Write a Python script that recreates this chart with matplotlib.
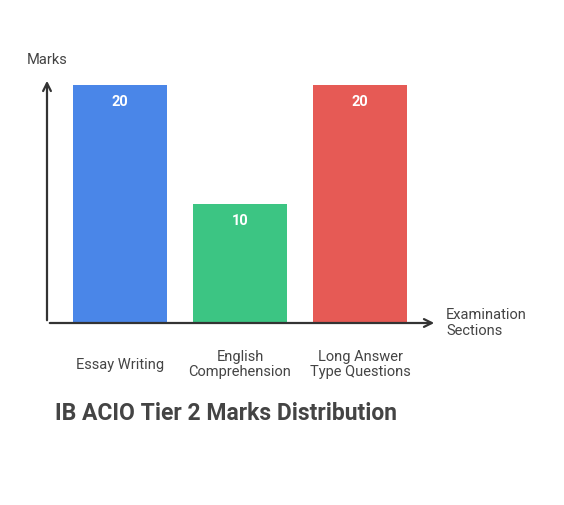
import matplotlib
matplotlib.use("Agg")
import matplotlib.pyplot as plt

categories = ["Essay Writing", "English\nComprehension", "Long Answer\nType Questions"]
values = [20, 10, 20]
colors = ["#4a86e8", "#3cc583", "#e65a55"]

W, H = 564, 505
fig = plt.figure(figsize=(W/100, H/100), dpi=100)
L, R, B, T = 47, 437, 323, 78
ax = fig.add_axes([L/W, 1-B/H, (R-L)/W, (B-T)/H])
ax.set_xlim(-73/120, (R-L-73)/120)
ax.set_ylim(0, (B-T)/11.9)
ax.bar(range(len(values)), values, width=94/120, color=colors)
for i, v in enumerate(values):
    ax.text(i, v - 0.8, str(v), ha="center", va="top", color="white",
            fontsize=10.5, fontweight="bold", family="Roboto")
ax.set_xticks(range(len(values)))
ax.set_xticklabels(categories, fontsize=10.5, color="#444444", family="Roboto",
                   va="center", linespacing=1.15)
ax.tick_params(axis="x", length=0, pad=30)
ax.set_yticks([])
for s in ax.spines.values():
    s.set_visible(False)
ax.annotate("", xy=(1, 0), xycoords="axes fraction", xytext=(0, 0),
            arrowprops=dict(arrowstyle="->", color="#333333", lw=1.6, mutation_scale=14))
ax.annotate("", xy=(0, 1), xycoords="axes fraction", xytext=(0, 0),
            arrowprops=dict(arrowstyle="->", color="#333333", lw=1.6, mutation_scale=14))
fig.text(27/W, 1-60/H, "Marks", fontsize=10.5, color="#444444", va="center", family="Roboto")
fig.text(446/W, 1-323/H, "Examination\nSections", fontsize=10.5, color="#444444",
         va="center", family="Roboto", linespacing=1.15)
fig.text(55/W, 1-413/H, "IB ACIO Tier 2 Marks Distribution", fontsize=16.5,
         fontweight="bold", color="#444444", va="center", family="Roboto")
fig.savefig("out.png", dpi=100)
